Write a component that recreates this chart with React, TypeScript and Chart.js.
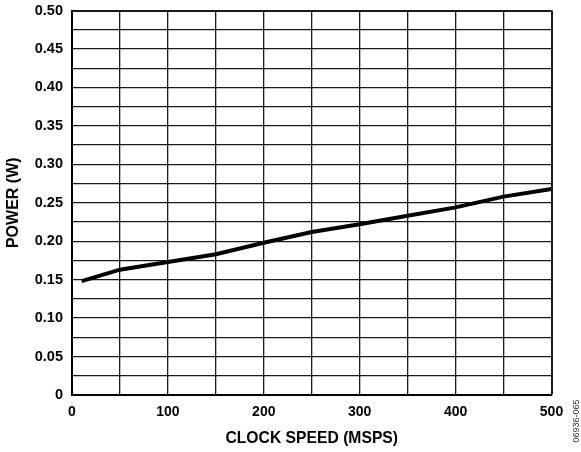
import React, { useEffect, useRef } from "react";
import { Chart, registerables } from "chart.js";

Chart.register(...registerables);

const clockSpeed = [10, 50, 100, 150, 200, 250, 300, 350, 400, 450, 500];
const power = [0.148, 0.163, 0.173, 0.183, 0.198, 0.212, 0.222, 0.233, 0.244, 0.258, 0.268];
const xTitle = "CLOCK SPEED (MSPS)";
const yTitle = "POWER (W)";
const figureId = "06936-065";

const FONT = "'Liberation Sans', Arial, Helvetica, sans-serif";

const sideNote = {
  id: "sideNote",
  afterDraw(chart: any) {
    const ctx = chart.ctx;
    ctx.save();
    ctx.translate(576.5, 421);
    ctx.rotate(-Math.PI / 2);
    ctx.font = `9px ${FONT}`;
    ctx.fillStyle = "#333";
    ctx.textAlign = "center";
    ctx.textBaseline = "middle";
    ctx.fillText(figureId, 0, 0);
    ctx.restore();
  },
};

export default function App() {
  const ref = useRef<HTMLCanvasElement>(null);
  useEffect(() => {
    if (!ref.current) return;
    Chart.defaults.color = "#000";
    const chart = new Chart(ref.current, {
      type: "line",
      data: {
        datasets: [
          {
            data: clockSpeed.map((x, i) => ({ x, y: power[i] })),
            borderColor: "#000",
            borderWidth: 4,
            pointRadius: 0,
            tension: 0,
            fill: false,
          },
        ],
      },
      options: {
        responsive: false,
        animation: false,
        layout: { padding: { top: 10.5, right: 29.5, left: 0, bottom: 0 } },
        plugins: { legend: { display: false }, tooltip: { enabled: false } },
        scales: {
          x: {
            type: "linear",
            min: 0,
            max: 500,
            afterFit: (s: any) => {
              s.height = 57;
              s.paddingLeft = 0;
              s.paddingRight = 0;
            },
            ticks: {
              stepSize: 50,
              padding: 9,
              maxRotation: 0,
              autoSkip: false,
              font: { family: FONT, size: 14, weight: "bold" },
              color: "#000",
              callback: (v: any) => (Number(v) % 100 === 0 ? String(v) : ""),
            },
            grid: {
              drawTicks: false,
              color: "#1a1a1a",
              lineWidth: (c: any) => (c.tick && c.tick.value === 500 ? 2 : 1.3),
            },
            border: { display: true, color: "#000", width: 2 },
            title: {
              display: true,
              text: xTitle,
              font: { family: FONT, size: 15.7, weight: "bold" },
              color: "#000",
              padding: { top: 0, bottom: 3.5 },
            },
          },
          y: {
            type: "linear",
            min: 0,
            max: 0.5,
            afterFit: (s: any) => {
              s.width = 72;
              s.paddingTop = 0;
              s.paddingBottom = 0;
            },
            ticks: {
              stepSize: 0.025,
              padding: 9,
              autoSkip: false,
              font: { family: FONT, size: 14.5, weight: "bold" },
              color: "#000",
              callback: (v: any) => {
                const n = Math.round(Number(v) * 1000);
                if (n % 50 !== 0) return "";
                if (n === 0) return "0";
                return (n / 1000).toFixed(2);
              },
            },
            grid: {
              drawTicks: false,
              color: "#1a1a1a",
              lineWidth: (c: any) =>
                c.tick && Math.abs(c.tick.value - 0.5) < 1e-9 ? 2 : 1.3,
            },
            border: { display: true, color: "#000", width: 2 },
            title: {
              display: true,
              text: yTitle,
              font: { family: FONT, size: 16, weight: "bold" },
              color: "#000",
              padding: { top: 4.4, bottom: 0 },
            },
          },
        },
      },
      plugins: [sideNote],
    });
    return () => chart.destroy();
  }, []);
  return (
    <div style={{ position: "absolute", left: 0, top: 0, width: 581, height: 452, background: "#fff" }}>
      <canvas ref={ref} width={581} height={452} style={{ display: "block" }} />
    </div>
  );
}
